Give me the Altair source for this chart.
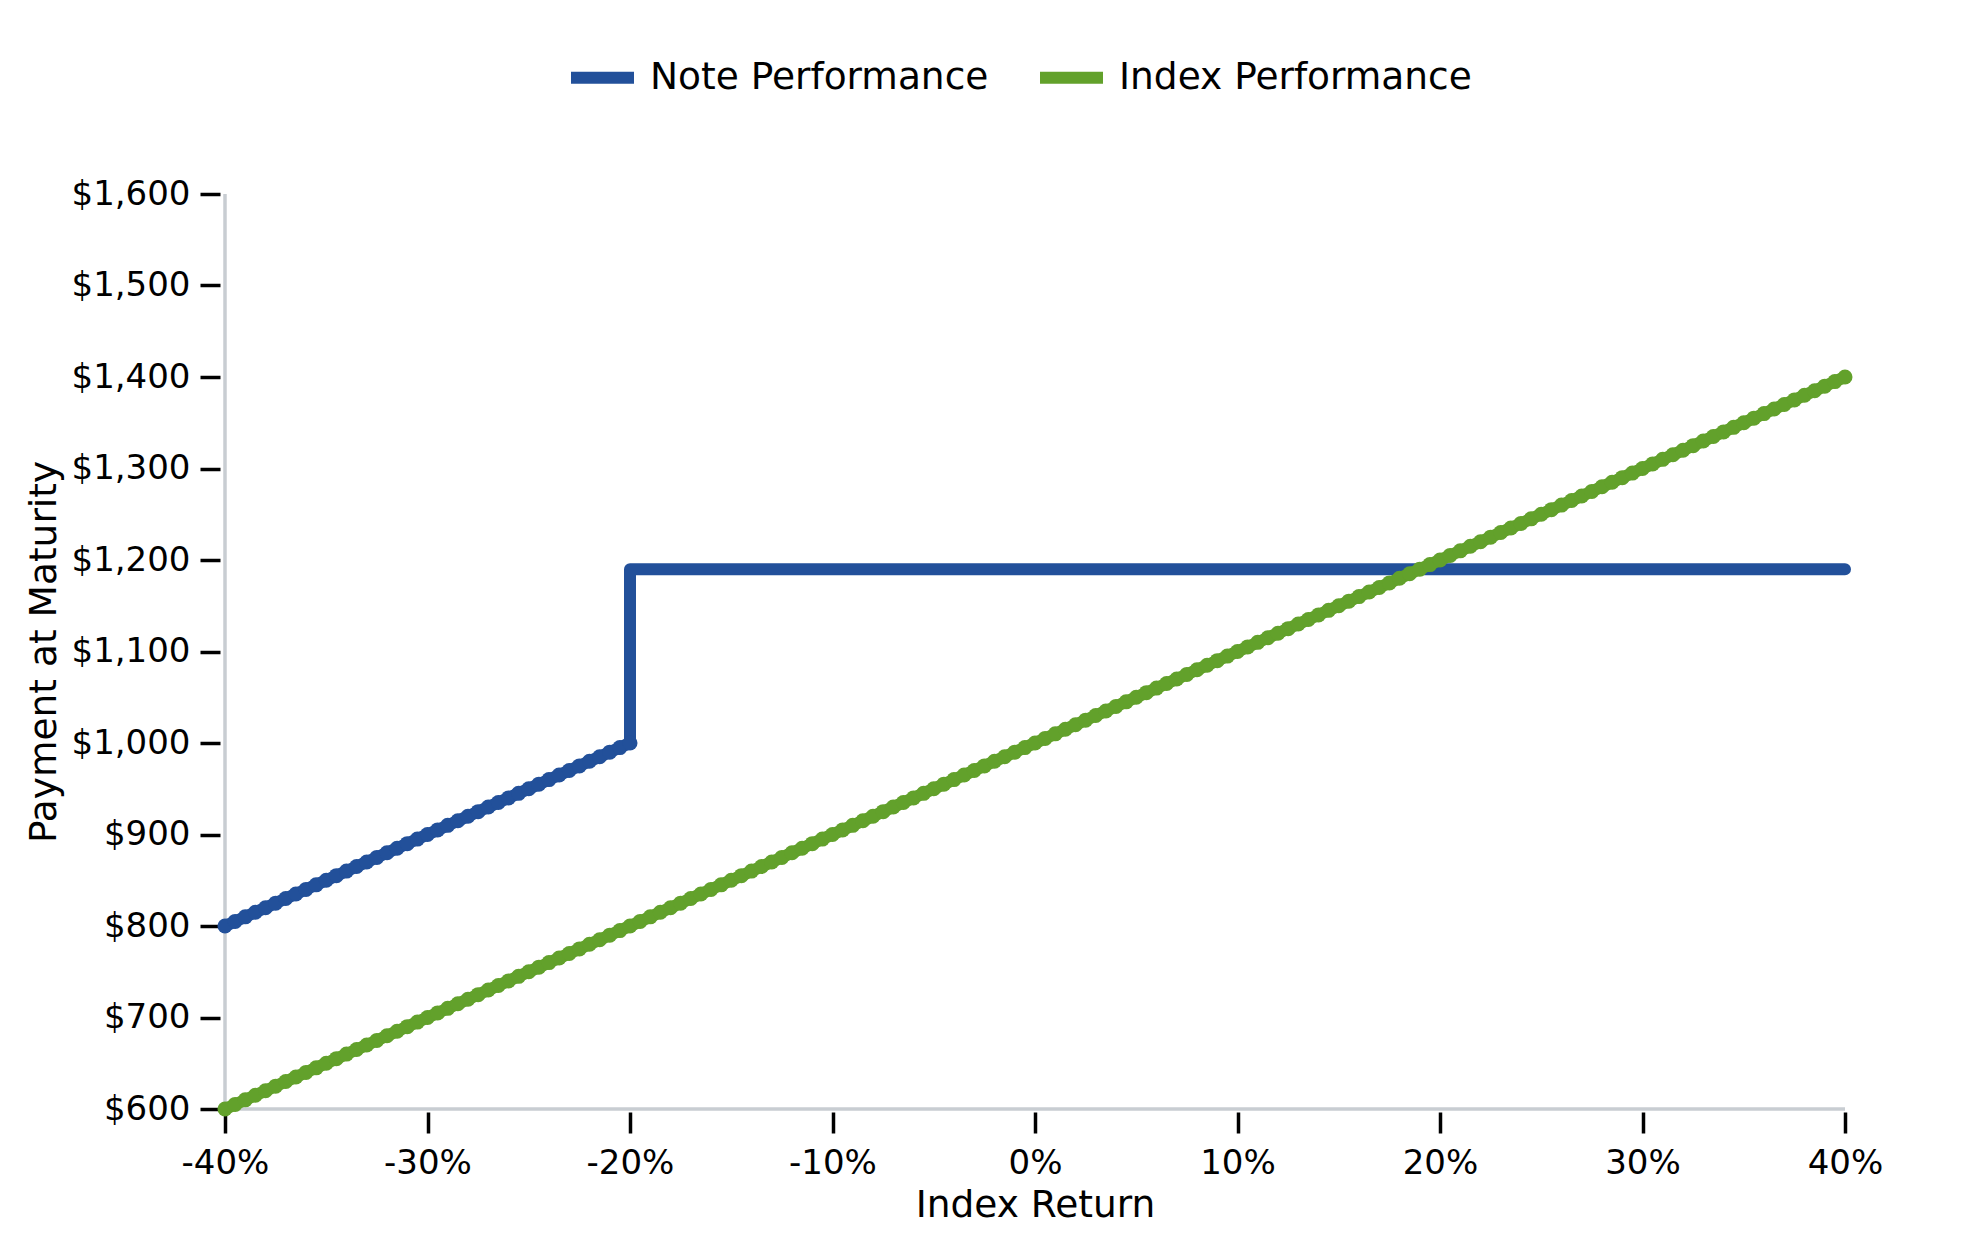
import altair as alt
import pandas as pd

# Index return (%) sampled every 0.5 percentage point
returns = [
    -40.0, -39.5, -39.0, -38.5, -38.0, -37.5, -37.0, -36.5, -36.0, -35.5,
    -35.0, -34.5, -34.0, -33.5, -33.0, -32.5, -32.0, -31.5, -31.0, -30.5,
    -30.0, -29.5, -29.0, -28.5, -28.0, -27.5, -27.0, -26.5, -26.0, -25.5,
    -25.0, -24.5, -24.0, -23.5, -23.0, -22.5, -22.0, -21.5, -21.0, -20.5,
    -20.0, -19.5, -19.0, -18.5, -18.0, -17.5, -17.0, -16.5, -16.0, -15.5,
    -15.0, -14.5, -14.0, -13.5, -13.0, -12.5, -12.0, -11.5, -11.0, -10.5,
    -10.0, -9.5, -9.0, -8.5, -8.0, -7.5, -7.0, -6.5, -6.0, -5.5,
    -5.0, -4.5, -4.0, -3.5, -3.0, -2.5, -2.0, -1.5, -1.0, -0.5,
    0.0, 0.5, 1.0, 1.5, 2.0, 2.5, 3.0, 3.5, 4.0, 4.5,
    5.0, 5.5, 6.0, 6.5, 7.0, 7.5, 8.0, 8.5, 9.0, 9.5,
    10.0, 10.5, 11.0, 11.5, 12.0, 12.5, 13.0, 13.5, 14.0, 14.5,
    15.0, 15.5, 16.0, 16.5, 17.0, 17.5, 18.0, 18.5, 19.0, 19.5,
    20.0, 20.5, 21.0, 21.5, 22.0, 22.5, 23.0, 23.5, 24.0, 24.5,
    25.0, 25.5, 26.0, 26.5, 27.0, 27.5, 28.0, 28.5, 29.0, 29.5,
    30.0, 30.5, 31.0, 31.5, 32.0, 32.5, 33.0, 33.5, 34.0, 34.5,
    35.0, 35.5, 36.0, 36.5, 37.0, 37.5, 38.0, 38.5, 39.0, 39.5,
    40.0,
]

# Index Performance payment at maturity for each return above
index_payment = [
    600, 605, 610, 615, 620, 625, 630, 635, 640, 645,
    650, 655, 660, 665, 670, 675, 680, 685, 690, 695,
    700, 705, 710, 715, 720, 725, 730, 735, 740, 745,
    750, 755, 760, 765, 770, 775, 780, 785, 790, 795,
    800, 805, 810, 815, 820, 825, 830, 835, 840, 845,
    850, 855, 860, 865, 870, 875, 880, 885, 890, 895,
    900, 905, 910, 915, 920, 925, 930, 935, 940, 945,
    950, 955, 960, 965, 970, 975, 980, 985, 990, 995,
    1000, 1005, 1010, 1015, 1020, 1025, 1030, 1035, 1040, 1045,
    1050, 1055, 1060, 1065, 1070, 1075, 1080, 1085, 1090, 1095,
    1100, 1105, 1110, 1115, 1120, 1125, 1130, 1135, 1140, 1145,
    1150, 1155, 1160, 1165, 1170, 1175, 1180, 1185, 1190, 1195,
    1200, 1205, 1210, 1215, 1220, 1225, 1230, 1235, 1240, 1245,
    1250, 1255, 1260, 1265, 1270, 1275, 1280, 1285, 1290, 1295,
    1300, 1305, 1310, 1315, 1320, 1325, 1330, 1335, 1340, 1345,
    1350, 1355, 1360, 1365, 1370, 1375, 1380, 1385, 1390, 1395,
    1400,
]

# Note Performance: sloped part (-40% .. -20%)
note_slope_returns = [
    -40.0, -39.5, -39.0, -38.5, -38.0, -37.5, -37.0, -36.5, -36.0, -35.5,
    -35.0, -34.5, -34.0, -33.5, -33.0, -32.5, -32.0, -31.5, -31.0, -30.5,
    -30.0, -29.5, -29.0, -28.5, -28.0, -27.5, -27.0, -26.5, -26.0, -25.5,
    -25.0, -24.5, -24.0, -23.5, -23.0, -22.5, -22.0, -21.5, -21.0, -20.5,
    -20.0,
]
note_slope_payment = [
    800, 805, 810, 815, 820, 825, 830, 835, 840, 845,
    850, 855, 860, 865, 870, 875, 880, 885, 890, 895,
    900, 905, 910, 915, 920, 925, 930, 935, 940, 945,
    950, 955, 960, 965, 970, 975, 980, 985, 990, 995,
    1000,
]
# Note Performance: flat part after the jump
note_flat_returns = [-20.0, 40.0]
note_flat_payment = [1190, 1190]

series_names = ["Note Performance", "Index Performance"]
series_colors = ["#22509a", "#62a12b"]
x_ticks = [-40, -30, -20, -10, 0, 10, 20, 30, 40]
y_ticks = [600, 700, 800, 900, 1000, 1100, 1200, 1300, 1400, 1500, 1600]

FONT = "DejaVu Sans"
AXIS_GRAY = "#c8cdd2"

note_r = note_slope_returns + note_flat_returns
note_v = note_slope_payment + note_flat_payment
line_df = pd.DataFrame({
    "series": [series_names[0]] * len(note_r) + [series_names[1]] * len(returns),
    "ret": note_r + returns,
    "pay": note_v + index_payment,
    "ord": list(range(len(note_r))) + list(range(len(returns))),
})
index_pts = pd.DataFrame({"ret": returns, "pay": index_payment})
note_pts = pd.DataFrame({"ret": note_slope_returns, "pay": note_slope_payment})

xscale = alt.Scale(domain=[-40, 40], nice=False, zero=False)
yscale = alt.Scale(domain=[600, 1600], nice=False, zero=False)

x_axis = alt.Axis(
    values=x_ticks, labelExpr="datum.value + '%'", domain=False, grid=False,
    ticks=True, tickSize=21, tickWidth=3.5, tickColor="#000000", offset=3,
    labelFontSize=34, labelPadding=13, labelColor="#000000", labelFont=FONT,
    labelFlush=False, labelOverlap=False,
    title="Index Return", titleFontSize=37.5, titleFontWeight="normal",
    titleColor="#000000", titleFont=FONT, titlePadding=6,
)
y_axis = alt.Axis(
    values=y_ticks, labelExpr="'$' + format(datum.value, ',')",
    domain=False, grid=False,
    ticks=True, tickSize=20, tickWidth=3.5, tickColor="#000000", offset=5,
    labelFontSize=34, labelPadding=10, labelColor="#000000", labelFont=FONT,
    labelFlush=False, labelOverlap=False,
    title="Payment at Maturity", titleFontSize=37.5, titleFontWeight="normal",
    titleColor="#000000", titleFont=FONT, titlePadding=8,
)

# light gray axis lines drawn as rules through the scales
vrule = alt.Chart(pd.DataFrame({"a": [0]})).mark_rule(
    color=AXIS_GRAY, strokeWidth=3.5
).encode(
    x=alt.datum(-40, scale=xscale, axis=x_axis),
    y=alt.datum(600, scale=yscale, axis=y_axis),
    y2=alt.datum(1600),
)
hrule = alt.Chart(pd.DataFrame({"a": [0]})).mark_rule(
    color=AXIS_GRAY, strokeWidth=3.5
).encode(
    x=alt.datum(-40, scale=xscale),
    x2=alt.datum(40),
    y=alt.datum(600, scale=yscale),
)

lines = alt.Chart(line_df).mark_line(
    strokeWidth=12, strokeCap="round", strokeJoin="round"
).encode(
    x=alt.X("ret:Q", scale=xscale, axis=x_axis),
    y=alt.Y("pay:Q", scale=yscale, axis=y_axis),
    color=alt.Color(
        "series:N",
        scale=alt.Scale(domain=series_names, range=series_colors),
        legend=alt.Legend(
            title=None, orient="none", direction="horizontal",
            legendX=340, legendY=-154,
            symbolType="stroke", symbolStrokeWidth=12, symbolSize=3969,
            labelFontSize=37.5, labelFont=FONT, labelColor="#000000",
            labelOffset=10, columnPadding=27, labelLimit=600,
        ),
    ),
    detail="series:N",
    order="ord:Q",
)

index_beads = alt.Chart(index_pts).mark_circle(
    size=225, opacity=1, color=series_colors[1]
).encode(
    x=alt.X("ret:Q", scale=xscale),
    y=alt.Y("pay:Q", scale=yscale),
)
note_beads = alt.Chart(note_pts).mark_circle(
    size=225, opacity=1, color=series_colors[0]
).encode(
    x=alt.X("ret:Q", scale=xscale),
    y=alt.Y("pay:Q", scale=yscale),
)

chart = alt.layer(vrule, hrule, lines, index_beads, note_beads).properties(
    width=1620,
    height=915,
    autosize=alt.AutoSizeParams(type="none"),
    padding={"left": 217, "top": 186, "right": 100, "bottom": 120},
).configure(
    font=FONT
).configure_view(
    stroke=None
)

chart.save("out.html", embed_options={"renderer": "svg", "actions": False})
